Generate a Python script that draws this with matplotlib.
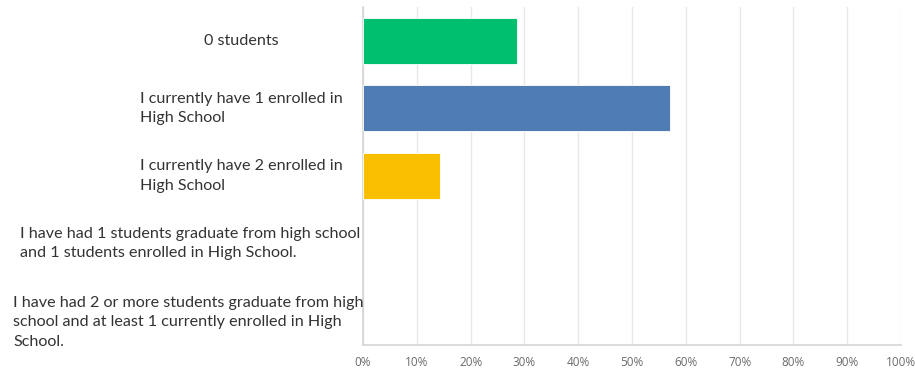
import numpy as np
import matplotlib
matplotlib.use("Agg")
import matplotlib.pyplot as plt
import matplotlib.transforms as mtransforms

answers = [
    "0 students",
    "I currently have 1 enrolled in\nHigh School",
    "I currently have 2 enrolled in\nHigh School",
    "I have had 1 students graduate from high school\nand 1 students enrolled in High School.",
    "I have had 2 or more students graduate from high\nschool and at least 1 currently enrolled in High\nSchool.",
]
shares = [28.57, 57.14, 14.29, 0.0, 0.0]
bar_colors = ["#00BF6F", "#507CB6", "#F9BE00", "#F05B24", "#A05DA5"]
ticks = list(range(0, 101, 10))
tick_labels = [f"{t}%" for t in ticks]

plt.rcParams["font.family"] = ["Lato", "DejaVu Sans"]

fig = plt.figure(figsize=(9.15, 3.72), dpi=100)
W, H = 915, 372
ax = fig.add_axes([363 / W, 1 - 345 / H, 538 / W, 338 / H])

y = np.arange(len(answers))
for i, (v, c) in enumerate(zip(shares, bar_colors)):
    if v > 0:
        ax.barh(y[i], v, height=0.68, color=c, edgecolor="#ffffff", linewidth=0.6, zorder=3)

ax.set_xlim(0, 100)
ax.set_ylim(len(answers) - 0.5, -0.5)
ax.set_xticks(ticks)
ax.set_xticklabels(tick_labels, fontsize=8.5, color="#6b6b6b", family=["Open Sans", "DejaVu Sans"])
ax.tick_params(axis="x", length=0, pad=8)
ax.set_yticks([])
ax.grid(axis="x", color="#e8e8e8", linewidth=1, zorder=0)
for s in ["top", "right"]:
    ax.spines[s].set_visible(False)
ax.spines["left"].set_color("#d4d4d4")
ax.spines["bottom"].set_color("#d4d4d4")
ax.spines["left"].set_linewidth(1.2)
ax.spines["bottom"].set_linewidth(1.2)

# left edge of each label block, in pixels
label_left = [204, 140, 140, 20, 13]
label_shift = [0, 0, 0, 0, -11]
for i, txt in enumerate(answers):
    tr = mtransforms.blended_transform_factory(fig.transFigure, ax.transData)
    tr = tr + mtransforms.ScaledTranslation(0, label_shift[i] / 100, fig.dpi_scale_trans)
    ax.text(label_left[i] / W, y[i], txt, transform=tr, ha="left", va="center",
            fontsize=11.6, color="#333333", linespacing=1.5, clip_on=False)

fig.savefig("out.png", dpi=100)
